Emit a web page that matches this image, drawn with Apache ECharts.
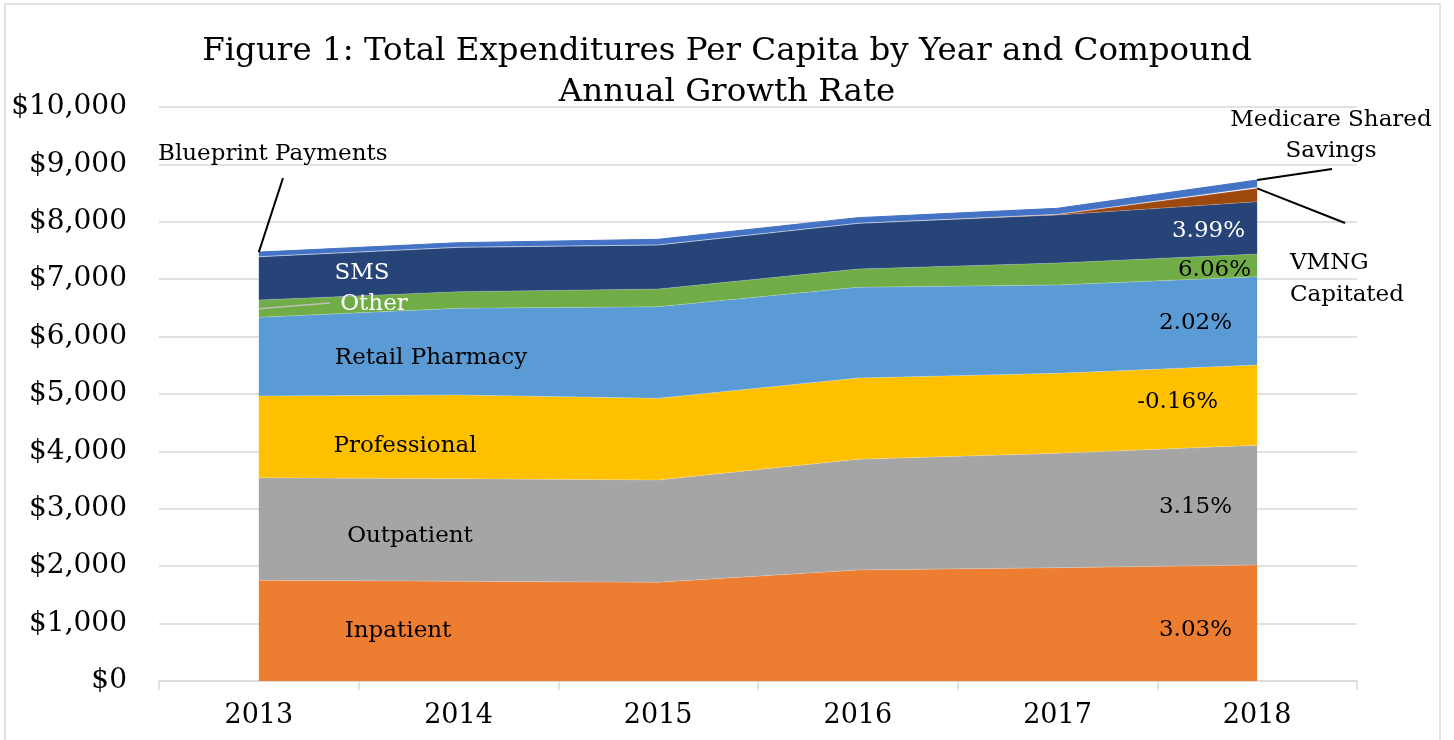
<!DOCTYPE html>
<html>
<head>
<meta charset="utf-8">
<script src="https://cdn.jsdelivr.net/npm/echarts@6/dist/echarts.min.js"></script>
<style>
html,body{margin:0;padding:0;background:#fff;}
#main{width:1454px;height:740px;}
</style>
</head>
<body>
<div id="main"></div>
<script>
const years = ['2013','2014','2015','2016','2017','2018'];
const inpatient      = [1754, 1737, 1719, 1934, 1974, 2021];
const outpatient     = [1788, 1788, 1783, 1928, 1993, 2085];
const professional   = [1423, 1458, 1423, 1417, 1393, 1399];
const retailPharmacy = [1371, 1510, 1596, 1580, 1539, 1539];
const other          = [302, 290, 308, 319, 383, 395];
const sms            = [754, 772, 767, 795, 836, 911];
const vmngCapitated  = [0, 0, 0, 0, 8, 233];
const medicareShared = [0, 0, 0, 0, 6, 20];
const blueprint      = [80, 81, 99, 99, 103, 125];
const cagr = {Inpatient:'3.03%', Outpatient:'3.15%', Professional:'-0.16%', 'Retail Pharmacy':'2.02%', Other:'6.06%', SMS:'3.99%'};

const FONT = 'DejaVu Serif';
const seriesDefs = [
  ['Inpatient', inpatient, '#ED7D31'],
  ['Outpatient', outpatient, '#A5A5A5'],
  ['Professional', professional, '#FFC000'],
  ['Retail Pharmacy', retailPharmacy, '#5B9BD5'],
  ['Other', other, '#70AD47'],
  ['SMS', sms, '#264478'],
  ['VMNG Capitated', vmngCapitated, '#9E480E'],
  ['Medicare Shared Savings', medicareShared, '#8C8C8C'],
  ['Blueprint Payments', blueprint, '#4472C4']
];

const chart = echarts.init(document.getElementById('main'));
chart.setOption({
  animation: false,
  backgroundColor: '#fff',
  title: {
    text: 'Figure 1: Total Expenditures Per Capita by Year and Compound\nAnnual Growth Rate',
    left: 'center', top: 26,
    textStyle: {fontFamily: FONT, fontWeight: 'normal', fontSize: 32.5, lineHeight: 41, color: '#000'}
  },
  grid: {left: 159, right: 97, top: 107, bottom: 59, containLabel: false},
  xAxis: {
    type: 'category', data: years, boundaryGap: true,
    axisLine: {lineStyle: {color: '#d9d9d9', width: 1.5}},
    axisTick: {show: true, length: 9, lineStyle: {color: '#d9d9d9', width: 1.5}},
    axisLabel: {fontFamily: FONT, fontSize: 27, color: '#000', margin: 21}
  },
  yAxis: {
    type: 'value', min: 0, max: 10000, interval: 1000,
    axisLine: {show: false}, axisTick: {show: false},
    splitLine: {lineStyle: {color: '#d9d9d9', width: 1.5}},
    axisLabel: {fontFamily: FONT, fontSize: 28, color: '#000', margin: 32,
      formatter: v => '$' + v.toLocaleString('en-US')}
  },
  series: seriesDefs.map(([name, data, color]) => ({
    name, type: 'line', stack: 'total', data,
    showSymbol: false, symbol: 'none',
    lineStyle: {width: name === 'Blueprint Payments' ? 1 : 0.6, color: name === 'Blueprint Payments' ? color : 'rgba(255,255,255,0.35)'},
    areaStyle: {color, opacity: 1},
    itemStyle: {color},
    z: 2
  }))
});

const px = (i, v) => chart.convertToPixel({gridIndex: 0}, [i, v]);
const totals = years.map((_, i) => seriesDefs.reduce((s, d) => s + d[1][i], 0));
const cum = (k, i) => seriesDefs.slice(0, k + 1).reduce((s, d) => s + d[1][i], 0);

const txt = (text, x, y, opts = {}) => ({
  type: 'text', x, y, z: 100,
  style: Object.assign({text, fill: '#000', font: '23px "' + FONT + '"', textAlign: 'center', textVerticalAlign: 'middle'}, opts)
});
const line = (a, b, color = '#000', w = 2) => ({
  type: 'line', z: 100, shape: {x1: a[0], y1: a[1], x2: b[0], y2: b[1]},
  style: {stroke: color, lineWidth: w}
});

const p13top = px(0, totals[0]);
const p18top = px(5, totals[5]);
const p18vmng = px(5, cum(6, 5));
const p13other = px(0, cum(3, 0) + other[0] / 2);

const elements = [
  {type: 'rect', z: 0, silent: true, shape: {x: 5, y: 4, width: 1435, height: 760},
   style: {fill: 'none', stroke: '#d9d9d9', lineWidth: 1.5}},
  txt('Inpatient', 398, 631),
  txt('Outpatient', 410, 536),
  txt('Professional', 405, 446),
  txt('Retail Pharmacy', 431, 358),
  txt('SMS', 362, 273, {fill: '#fff'}),
  txt('Other', 374, 304, {fill: '#fff'}),
  line(p13other, [330, 303], '#bfbfbf', 1.5),
  txt(cagr['Inpatient'], 1232, 630, {textAlign: 'right'}),
  txt(cagr['Outpatient'], 1232, 507, {textAlign: 'right'}),
  txt(cagr['Professional'], 1218, 402, {textAlign: 'right'}),
  txt(cagr['Retail Pharmacy'], 1232, 323, {textAlign: 'right'}),
  txt(cagr['Other'], 1251, 270, {textAlign: 'right'}),
  txt(cagr['SMS'], 1245, 231, {textAlign: 'right', fill: '#fff'}),
  txt('Blueprint Payments', 158, 154, {textAlign: 'left'}),
  line([283, 178], p13top),
  txt('Medicare Shared', 1331, 120),
  txt('Savings', 1331, 151),
  line([1332, 169], p18top),
  txt('VMNG', 1290, 263, {textAlign: 'left'}),
  txt('Capitated', 1290, 295, {textAlign: 'left'}),
  line([1345, 223], p18vmng)
];
chart.setOption({graphic: {elements}});
</script>
</body>
</html>
